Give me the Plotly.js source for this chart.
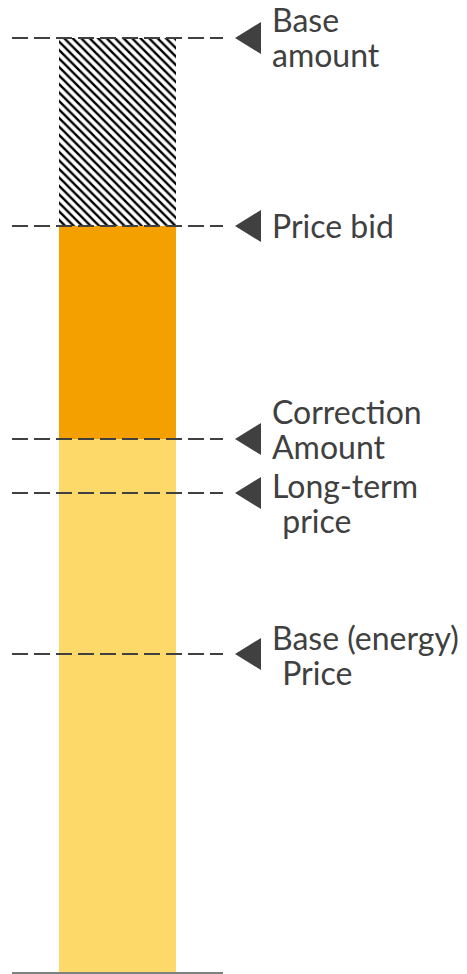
<!DOCTYPE html>
<html>
<head>
<meta charset="utf-8">
<script src="https://cdn.plot.ly/plotly-3.0.1.min.js"></script>
<style>html,body{margin:0;padding:0;background:#fff;}#chart{width:467px;height:974px;}</style>
</head>
<body>
<div id="chart"></div>
<script>
// Levels (value units), top to bottom
const levelLabels = [
  ['Base', 'amount'],
  ['Price bid'],
  ['Correction', 'Amount'],
  ['Long-term', '\u00a0price'],
  ['Base (energy)', '\u00a0Price']
];
const levelValues = [93.4, 74.6, 53.3, 47.9, 31.8];

// Stacked segments (bottom to top)
const segmentNames = ['Base segment', 'Correction segment', 'Bid margin segment'];
const segmentValues = [53.3, 21.3, 18.8];
const segmentColors = ['#FDD969', '#F4A000', '#ffffff'];

// label line offsets in pixels (positive = up), styling only
const lineShifts = [[19, -16], [1], [27.5, -7.5], [8, -27], [16.5, -18.5]];

const traces = segmentNames.map((n, i) => ({
  type: 'bar',
  name: n,
  x: [0],
  y: [segmentValues[i]],
  width: 0.559,
  marker: i === 2 ? {
    color: '#ffffff',
    line: {width: 0},
    pattern: {shape: '\\', fgcolor: '#000000', bgcolor: '#ffffff', size: 6, solidity: 0.4}
  } : {color: segmentColors[i], line: {width: 0}},
  hoverinfo: 'skip',
  showlegend: false
}));

const shapes = [];
const annotations = [];
levelValues.forEach((v, i) => {
  shapes.push({
    type: 'line', xref: 'paper', yref: 'y', x0: 0, x1: 1, y0: v, y1: v,
    line: {color: '#404040', width: 2, dash: '16px,6px'}, layer: 'above'
  });
  shapes.push({
    type: 'path', xref: 'paper', yref: 'y', xsizemode: 'pixel', ysizemode: 'pixel',
    xanchor: 1.0569, yanchor: v,
    path: 'M0,0L26,16L26,-16Z',
    fillcolor: '#404040', line: {width: 0}, layer: 'above'
  });
  levelLabels[i].forEach((t, j) => {
    annotations.push({
      xref: 'paper', yref: 'y', x: 1.2227, y: v, xanchor: 'left', yanchor: 'middle',
      align: 'left', showarrow: false, text: t,
      yshift: lineShifts[i][j], xshift: t.startsWith('\u00a0') ? 2 : 0,
      font: {family: 'Lato', size: 32, color: '#404040'}
    });
  });
});

const layout = {
  width: 467, height: 974,
  margin: {l: 12, r: 244, t: 3, b: 2, pad: 0},
  barmode: 'stack',
  bargap: 0,
  paper_bgcolor: '#ffffff', plot_bgcolor: '#ffffff',
  xaxis: {range: [-0.5, 0.5], showline: true, linecolor: '#808080', linewidth: 2,
          showticklabels: false, ticks: '', showgrid: false, zeroline: false, fixedrange: true},
  yaxis: {range: [0, 96.9], visible: false, showgrid: false, zeroline: false, fixedrange: true},
  shapes: shapes,
  annotations: annotations
};

Plotly.newPlot('chart', traces, layout, {displayModeBar: false, staticPlot: true});
</script>
</body>
</html>
